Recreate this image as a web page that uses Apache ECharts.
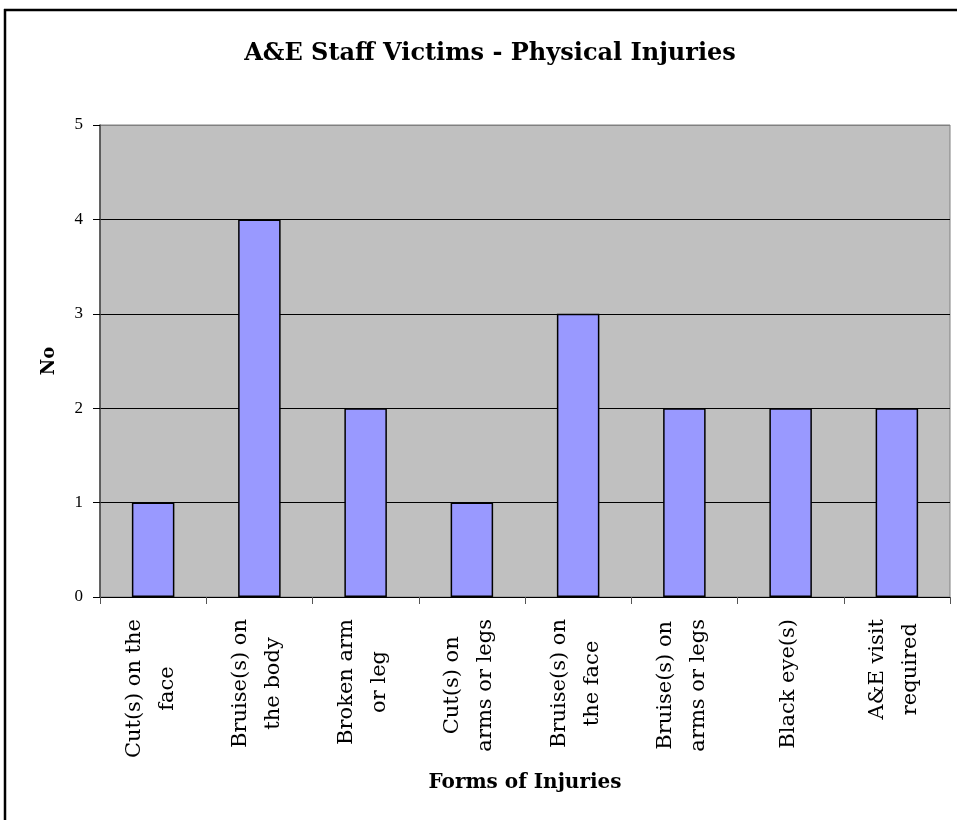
<!DOCTYPE html>
<html>
<head>
<meta charset="utf-8">
<script src="https://cdn.jsdelivr.net/npm/echarts@6/dist/echarts.min.js"></script>
<style>
  html, body { margin: 0; padding: 0; background: #ffffff; }
  #chart { width: 957px; height: 820px; }
</style>
</head>
<body>
<div id="chart"></div>
<script>
// Injury categories (two display lines each) and counts
const categories = [
  'Cut(s) on the\nface',
  'Bruise(s) on\nthe body',
  'Broken arm\nor leg',
  'Cut(s) on\narms or legs',
  'Bruise(s) on\nthe face',
  'Bruise(s) on\narms or legs',
  'Black eye(s)',
  'A&E visit\nrequired'
];
const counts = [1, 4, 2, 1, 3, 2, 2, 2];
const yTicks = [0, 1, 2, 3, 4, 5];

const serif = '"DejaVu Serif", serif';
const times = '"Liberation Serif", "Times New Roman", serif';
const catFontSize = 21;
const catLineHeight = 33;

// Centre the lines of each category label: every line is padded to the
// width of the label's longest line.
const measureCtx = document.createElement('canvas').getContext('2d');
measureCtx.font = catFontSize + 'px ' + serif;
const catRich = {};
categories.forEach(function (label, i) {
  const lines = label.split('\n');
  const widths = lines.map(function (s) { return measureCtx.measureText(s).width; });
  const maxW = Math.max.apply(null, widths);
  lines.forEach(function (s, j) {
    const pad = (maxW - widths[j]) / 2;
    catRich['c' + i + '_' + j] = {
      fontFamily: serif,
      fontSize: catFontSize,
      lineHeight: catLineHeight,
      color: '#000',
      padding: [0, pad, 0, pad]
    };
  });
});

const chart = echarts.init(document.getElementById('chart'), null, { renderer: 'canvas' });

chart.setOption({
  backgroundColor: '#ffffff',
  animation: false,
  title: {
    text: 'A&E Staff Victims - Physical Injuries',
    left: 485,
    textAlign: 'center',
    top: 37,
    textStyle: { fontFamily: serif, fontWeight: 'bold', fontSize: 24, color: '#000' }
  },
  graphic: [
    { type: 'line', shape: { x1: 4, y1: 10, x2: 957, y2: 10 }, style: { stroke: '#000', lineWidth: 2.5 } },
    { type: 'line', shape: { x1: 5, y1: 9, x2: 5, y2: 820 }, style: { stroke: '#000', lineWidth: 2.5 } }
  ],
  grid: {
    left: 100, right: 7, top: 125, bottom: 223,
    show: true,
    backgroundColor: '#c0c0c0',
    borderColor: '#808080',
    borderWidth: 1
  },
  xAxis: {
    type: 'category',
    data: categories,
    name: 'Forms of Injuries',
    nameLocation: 'middle',
    nameGap: 176,
    nameTextStyle: { fontFamily: serif, fontWeight: 'bold', fontSize: 20, color: '#000' },
    axisLine: { lineStyle: { color: '#000', width: 1 } },
    axisTick: { show: true, length: 7, lineStyle: { color: '#555' } },
    axisLabel: {
      rotate: 90,
      interval: 0,
      margin: 22,
      padding: [0, 0, 5, 0],
      fontFamily: serif,
      fontSize: catFontSize,
      color: '#000',
      lineHeight: catLineHeight,
      formatter: function (v, idx) {
        return v.split('\n').map(function (s, j) { return '{c' + idx + '_' + j + '|' + s + '}'; }).join('\n');
      },
      rich: catRich
    }
  },
  yAxis: {
    type: 'value',
    min: yTicks[0],
    max: yTicks[yTicks.length - 1],
    interval: 1,
    name: 'No',
    nameLocation: 'middle',
    nameRotate: 90,
    nameGap: 42,
    nameTextStyle: { fontFamily: serif, fontWeight: 'bold', fontSize: 18, color: '#000' },
    axisLine: { show: true, lineStyle: { color: '#444', width: 1.5 } },
    axisTick: { show: true, length: 7, lineStyle: { color: '#000' } },
    axisLabel: { margin: 17, fontFamily: times, fontSize: 17, color: '#000' },
    splitLine: {
      show: true,
      lineStyle: { color: ['#000', '#000', '#000', '#000', '#000', '#808080'], width: 1 }
    }
  },
  series: [{
    type: 'bar',
    data: counts,
    barWidth: '40%',
    itemStyle: { color: '#9999ff', borderColor: '#000', borderWidth: 1.5 }
  }]
});
</script>
</body>
</html>
